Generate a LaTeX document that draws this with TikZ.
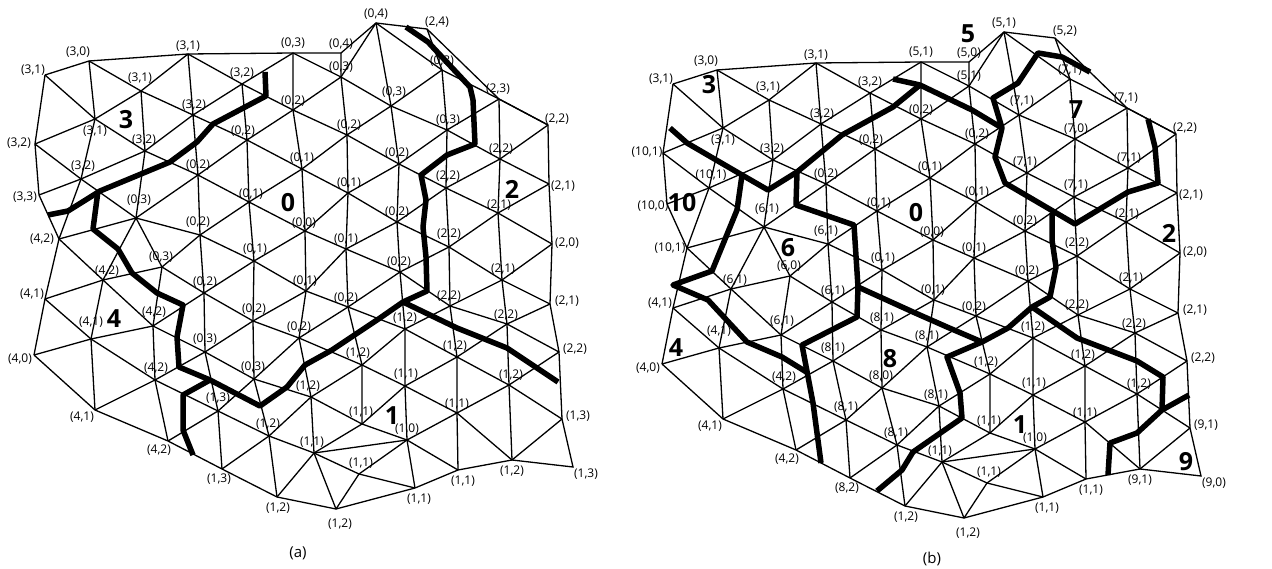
\documentclass[tikz,border=0pt]{standalone}
\usepackage{fontspec}
\setmainfont{Open Sans}
\usepackage{tikz}

\newcommand{\meshgrid}{
  \foreach \n/\x/\y in {a1/45/75,a2/35/144,a3/39/195,a4/59/239,a5/45/299,a6/34/355,
      b1/89/61,b2/95/119,b3/81/179,
      c1/141/91,c2/145/151,c3/136/218,c4/103/280,c5/91/339,c6/95/410,
      d1/162/267,d2/153/326,d3/155/380,d4/168/441,
      e1/188/54,e2/193/115,e3/198/175,e4/200/235,e5/204/293,e6/205/352,e7/218/411,e8/222/469,
      f1/242/84,f2/247/140,f3/249/202,f4/254/261,f5/253/321,f6/254/379,f7/269/436,f8/277/497,
      g1/293/53,g2/293/110,g3/302/169,g4/305/231,g5/306/291,g6/299/338,g7/311/397,g8/314/453,g9/336/509,
      h0/341/53,h1/341/77,h2/347/135,h3/348/193,h4/346/249,h5/348/307,h6/362/365,h7/362/424,h8/359/474,
      i1/376/23,i2/391/106,i3/399/164,i4/397/222,i5/400/272,i6/405/329,i7/405/386,i8/407/440,i9/415/488,
      j0/427/29,j1/442/70,j2/447/130,j3/446/188,j4/449/247,j5/450/306,j6/457/357,j7/457/413,j8/458/470,
      k1/499/99,k2/500/159,k3/498/213,k4/502/280,k5/507/324,k6/509/385,k7/512/460,
      l1/548/125,l2/549/184,l3/552/244,l4/550/304,l5/559/352,l6/562/419,l7/573/467}{
    \coordinate (\n) at (\x,\y);
  }
  % columns
  \draw[edge] (a1)--(a2)--(a3)--(a4)--(a5)--(a6);
  \draw[edge] (b1)--(b2)--(b3)--(a4);
  \draw[edge] (c1)--(c2)--(c3)--(c4)--(c5)--(c6);
  \draw[edge] (c3)--(d1)--(d2)--(d3)--(d4);
  \draw[edge] (e1)--(e2)--(e3)--(e4)--(e5)--(e6)--(e7)--(e8);
  \draw[edge] (f1)--(f2)--(f3)--(f4)--(f5)--(f6)--(f7)--(f8);
  \draw[edge] (g1)--(g2)--(g3)--(g4)--(g5)--(g6)--(g7)--(g8)--(g9);
  \draw[edge] (h0)--(h1)--(h2)--(h3)--(h4)--(h5)--(h6)--(h7);
  \draw[edge] (i1)--(i2)--(i3)--(i4)--(i5)--(i6)--(i7)--(i8)--(i9);
  \draw[edge] (j0)--(j1)--(j2)--(j3)--(j4)--(j5)--(j6)--(j7)--(j8);
  \draw[edge] (k1)--(k2)--(k3)--(k4)--(k5)--(k6)--(k7);
  % rising
  \draw[edge] (a2)--(b2)--(c1)--(e1);
  \draw[edge] (a3)--(b3)--(c2)--(e2)--(f1)--(g1);
  \draw[edge] (a4)--(c3)--(e3)--(f2)--(g2)--(h1)--(i1);
  \draw[edge] (a5)--(c4)--(d1)--(e4)--(f3)--(g3)--(h2)--(i2)--(j1);
  \draw[edge] (a6)--(c5)--(d2)--(e5)--(f4)--(g4)--(h3)--(i3)--(j2)--(k1);
  \draw[edge] (c6)--(d3)--(e6)--(f5)--(g5)--(h4)--(i4)--(j3)--(k2)--(l1);
  \draw[edge] (d4)--(e7)--(f6)--(g6)--(h5)--(i5)--(j4)--(k3)--(l2);
  \draw[edge] (e8)--(f7)--(g7)--(h6)--(i6)--(j5)--(k4)--(l3);
  \draw[edge] (f8)--(g8)--(h7)--(i7)--(j6)--(k5)--(l4);
  \draw[edge] (g8)--(i8)--(j7)--(k6)--(l5);
  \draw[edge] (g9)--(h8)--(i8);
  \draw[edge] (k7)--(l6);
  % falling
  \draw[edge] (i1)--(j1)--(k1)--(l1);
  \draw[edge] (g1)--(h1)--(i2)--(j2)--(k2)--(l2);
  \draw[edge] (e1)--(f1)--(g2)--(h2)--(i3)--(j3)--(k3)--(l3);
  \draw[edge] (b1)--(c1)--(e2)--(f2)--(g3)--(h3)--(i4)--(j4)--(k4)--(l4);
  \draw[edge] (a1)--(b2)--(c2)--(e3)--(f3)--(g4)--(h4)--(i5)--(j5)--(k5)--(l5);
  \draw[edge] (a2)--(b3)--(c3)--(e4)--(f4)--(g5)--(h5)--(i6)--(j6)--(k6)--(l6);
  \draw[edge] (d1)--(e5)--(f5)--(g6)--(h6)--(i7)--(j7)--(k7);
  \draw[edge] (a4)--(c4)--(d2)--(e6)--(f6)--(g7)--(h7)--(i8)--(j8);
  \draw[edge] (a5)--(c5)--(d3)--(e7)--(f7)--(g8)--(h8)--(i9);
  % outline
  \draw[edge] (a1)--(b1)--(e1)--(g1)--(h0)--(i1)--(j0)--(k1)--(l1)--(l2)--(l3)--(l4)--(l5)--(l6)--(l7)--(k7)--(j8)--(i9)--(g9)--(f8)--(e8)--(d4)--(c6)--(a6);
}

\begin{document}
\begin{tikzpicture}[x=1pt,y=-1pt]
  \tikzstyle{edge}=[draw,line width=1.3pt]
  \tikzstyle{cut}=[draw,line width=5.5pt,line join=round]
  \tikzstyle{lbl}=[inner sep=0pt,font=\fontsize{12}{13}\selectfont]
  \tikzstyle{part}=[inner sep=0pt,font=\fontsize{25}{26}\selectfont\bfseries]
  \tikzstyle{captxt}=[inner sep=0pt,font=\fontsize{15}{17}\selectfont]
  \useasboundingbox (0,0) rectangle (1272,569);
  \fill[white] (0,0) rectangle (1272,569);

  \begin{scope}
    \meshgrid
    \foreach \x/\y/\p/\q [count=\i] in {33/70/3/1,78/52/3/0,188/46/3/1,293/43/0/3,242/73/3/2,140/78/3/1,194/105/3/2,293/101/0/2,
        95/131/3/1,243/131/0/2,19/143/3/2,144/140/3/2,302/158/0/1,198/165/0/2,83/166/3/2,25/197/3/3,139/200/0/3,251/194/0/1,
        304/223/0/0,198/222/0/2,42/239/4/2,255/249/0/1,161/257/0/3,107/271/4/2,376/14/0/4,437/22/2/4,341/44/0/4,341/67/0/3,
        442/61/0/3,498/89/2/3,394/92/0/3,557/119/2/2,448/120/0/3,349/125/0/2,501/149/2/2,397/153/0/2,563/186/2/1,448/176/2/2,
        349/183/0/1,499/205/2/1,397/212/0/2,567/243/2/0,449/234/2/2,346/239/0/1,399/262/0/2,503/269/2/1,32/294/4/1,205/282/0/2,
        305/281/0/1,254/309/0/2,154/312/4/2,91/322/4/1,299/327/0/2,205/339/0/3,20/359/4/0,156/368/4/2,253/367/0/3,308/386/1/2,
        218/398/1/3,82/417/4/1,268/424/1/2,312/442/1/1,159/450/4/2,219/479/1/3,278/508/1/2,346/298/0/2,449/296/2/2,567/301/2/1,
        506/315/2/2,405/318/1/2,575/349/2/2,358/353/1/2,455/346/1/2,406/374/1/1,511/375/1/2,578/416/1/3,457/404/1/1,361/412/1/1,
        407/429/1/0,512/471/1/2,586/474/1/3,361/463/1/1,463/481/1/1,419/499/1/1,340/524/1/2}{
      \node[lbl] (la\i) at (\x,\y) {(\p,\q)};
    }
  \end{scope}

  \begin{scope}[shift={(628,9)}]
    \meshgrid
    \foreach \x/\y/\p/\q [count=\i] in {33/70/3/1,78/52/3/0,188/46/3/1,293/43/5/1,242/73/3/2,140/78/3/1,194/105/3/2,293/101/0/2,
        95/131/3/1,243/131/0/2,19/143/10/1,144/140/3/2,302/158/0/1,198/165/0/2,83/166/10/1,25/197/10/0,139/200/6/1,251/194/0/1,
        304/223/0/0,198/222/6/1,42/239/10/1,255/249/0/1,161/257/6/0,107/271/6/1,376/14/5/1,437/22/5/2,341/44/5/0,341/67/5/1,
        442/61/7/1,498/89/7/1,394/92/7/1,557/119/2/2,448/120/7/0,349/125/0/2,501/149/7/1,397/153/7/1,563/186/2/1,448/176/7/1,
        349/183/0/1,499/205/2/1,397/212/0/2,567/243/2/0,449/234/2/2,346/239/0/1,399/262/0/2,503/269/2/1,32/294/4/1,205/282/6/1,
        305/281/0/1,254/309/8/1,154/312/6/1,91/322/4/1,299/327/8/1,205/339/8/1,20/359/4/0,156/368/4/2,253/367/8/0,308/386/8/1,
        218/398/8/1,82/417/4/1,268/424/8/1,312/442/1/1,159/450/4/2,219/479/8/2,278/508/1/2,346/298/0/2,449/296/2/2,567/301/2/1,
        506/315/2/2,405/318/1/2,575/349/2/2,358/353/1/2,455/346/1/2,406/374/1/1,511/375/1/2,578/416/9/1,457/404/1/1,361/412/1/1,
        407/429/1/0,512/471/9/1,586/474/9/0,361/463/1/1,463/481/1/1,419/499/1/1,340/524/1/2}{
      \node[lbl] (lb\i) at (\x,\y) {(\p,\q)};
    }
  \end{scope}

  % cuts of (a)
  \draw[cut] (265,72)--(266,96)--(213,124)--(197,142)--(170,162)--(100,191)--(68,211)--(48,215);
  \draw[cut] (98,191)--(93,229)--(118,249)--(132,273)--(157,293)--(183,305)--(177,337)--(179,367)--(210,380)--(260,406)--(287,387)--(305,365)--(332,350)--(380,318)--(403,302)--(427,291)--(426,257)--(423,227)--(426,200)--(421,175)--(447,155)--(475,144)--(473,100)--(470,87)--(428,42)--(406,27);
  \draw[cut] (403,302)--(457,328)--(507,348)--(558,382);
  \draw[cut] (210,380)--(183,395)--(183,430)--(193,455);

  % cuts of (b)
  \draw[cut] (670,128)--(687,143)--(742,175)--(768,190)--(797,172)--(842,135)--(893,107)--(920,85)--(972,110)--(1002,128);
  \draw[cut] (893,79)--(920,85);
  \draw[cut] (742,175)--(737,210)--(712,271)--(673,285)--(708,300)--(747,342)--(782,357)--(808,373);
  \draw[cut] (797,172)--(796,205)--(854,225)--(858,287)--(857,317)--(802,345)--(813,403)--(821,463);
  \draw[cut] (858,287)--(913,312)--(947,327)--(982,342)--(1008,328)--(1032,307)--(1050,297)--(1056,267)--(1052,240)--(1052,213);
  \draw[cut] (1090,72)--(1062,57)--(1038,53)--(1018,83)--(993,98)--(1002,128)--(995,157)--(1005,183)--(1075,224)--(1128,192)--(1158,183)--(1155,147)--(1148,119);
  \draw[cut] (1032,307)--(1077,338)--(1137,361)--(1163,377)--(1162,410);
  \draw[cut] (1189,395)--(1162,410)--(1137,433)--(1110,443)--(1108,475);
  \draw[cut] (982,342)--(947,357)--(960,393)--(962,418)--(913,452)--(902,470)--(877,491);

  % region numbers
  \foreach \n/\x/\y/\t in {a3/126/120/3,a0/288/203/0,a2/512/189/2,a4/114/319/4,a1/392/416/1,
      b3/709/85/3,b10/682/203/10,b6/788/248/6,b0/916/213/0,b5/968/34/5,b7/1076/110/7,
      b2/1169/233/2,b4/676/348/4,b8/890/359/8,b1/1020/425/1,b9/1186/462/9}{
    \node[part] (part\n) at (\x,\y) {\t};
  }
  \node[captxt] (capa) at (298,553) {(a)};
  \node[captxt] (capb) at (932,559) {(b)};
\end{tikzpicture}
\end{document}
